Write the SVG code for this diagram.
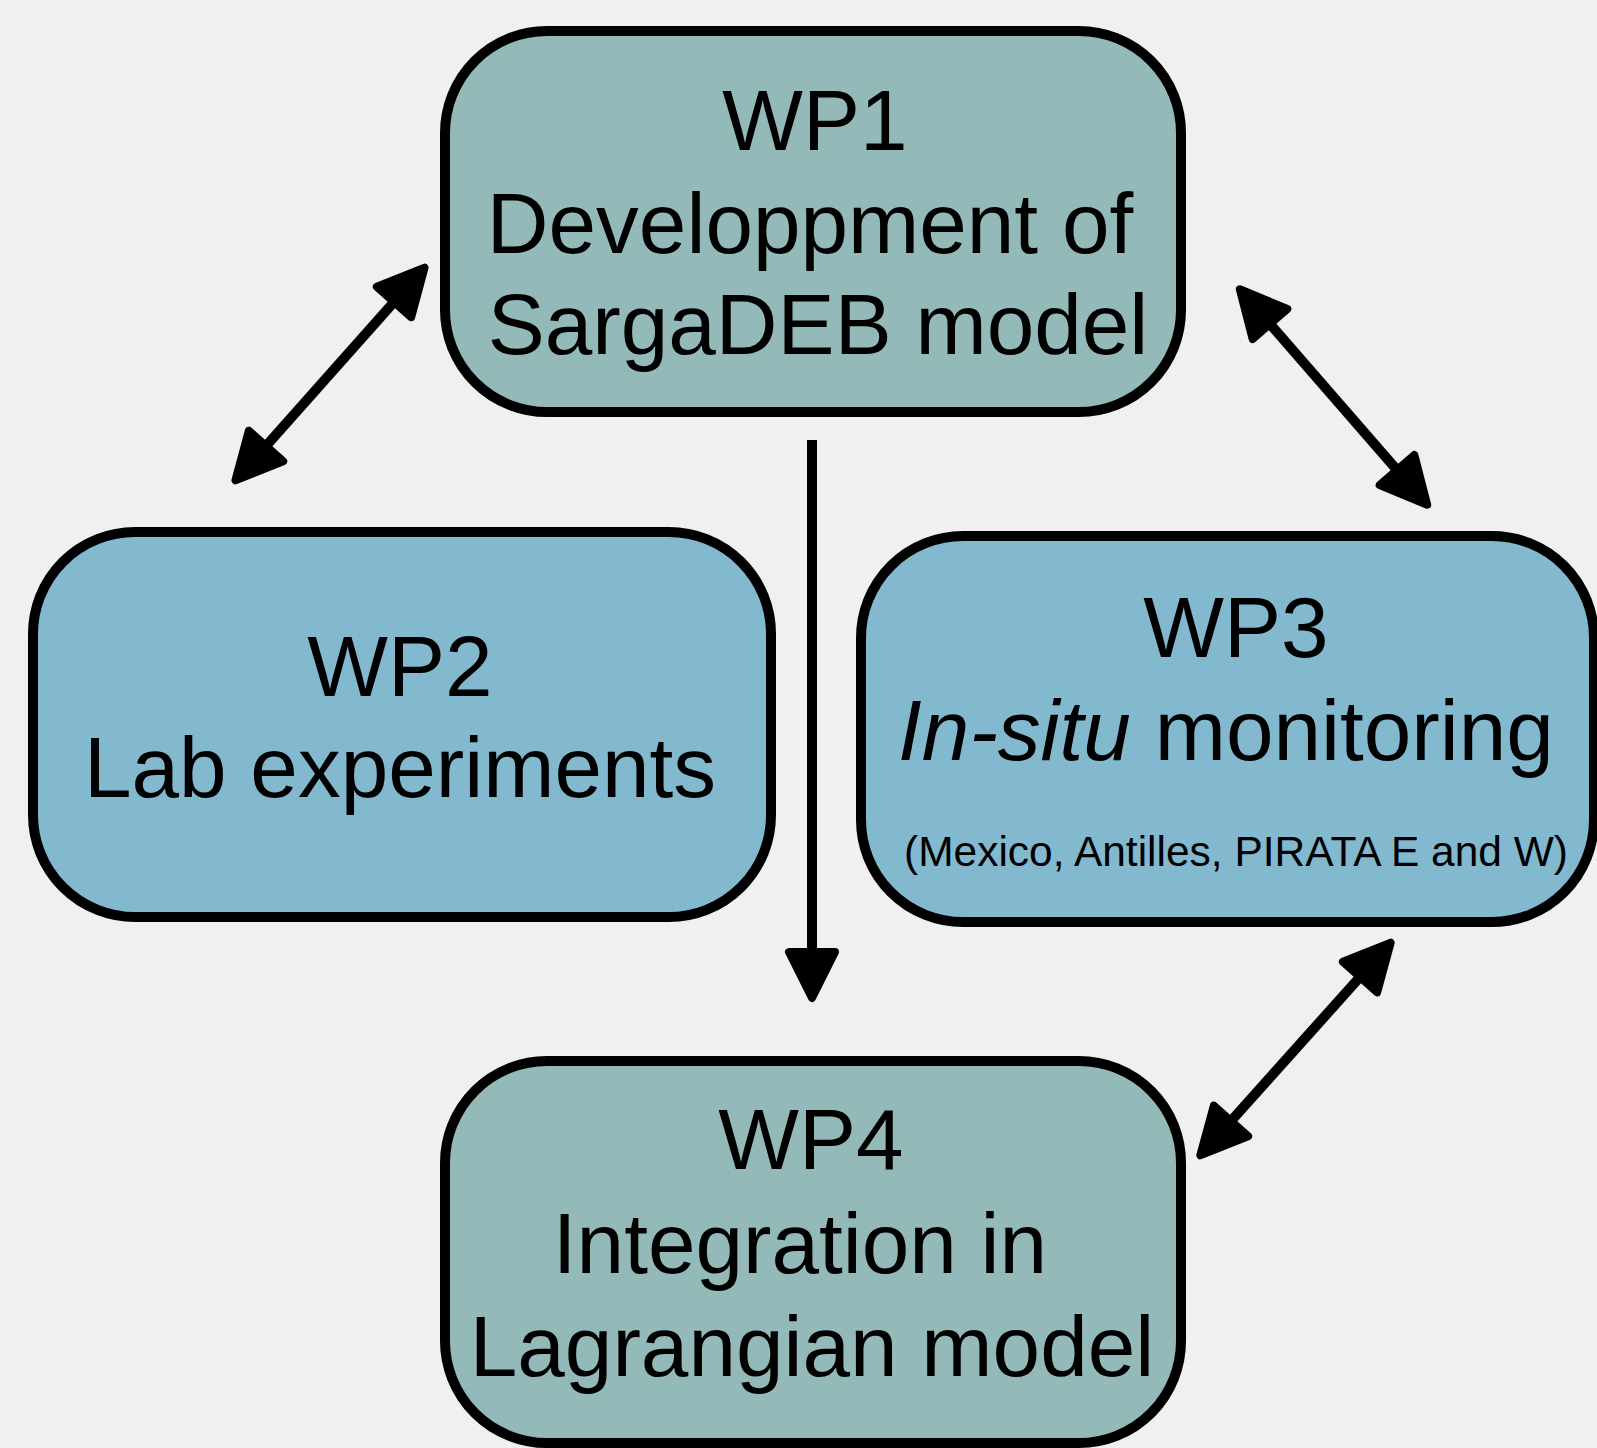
<svg xmlns="http://www.w3.org/2000/svg" width="1597" height="1448" viewBox="0 0 1597 1448">
<style>
.box{stroke:#000;stroke-width:10}
.a{fill:#93B9B9}
.b{fill:#82B9CF}
text{font-family:"Liberation Sans",Arial,sans-serif;fill:#000;text-anchor:middle}
.big{font-size:85.5px}
.small{font-size:42px}
.conn{stroke:#000;stroke-width:10;fill:none}
</style>
<defs>
<marker id="head" viewBox="0 0 56 56" markerWidth="56" markerHeight="56" markerUnits="userSpaceOnUse" refX="4" refY="27" orient="auto-start-reverse" overflow="visible">
<path d="M4 4 L50 27 L4 50 Z" fill="#000" stroke="#000" stroke-width="8" stroke-linejoin="round"/>
</marker>
</defs>
<rect width="1597" height="1448" fill="#F0F0F0"/>
<g id="wp1">
<rect class="box a" x="445" y="31" width="736" height="381" rx="102" ry="102"/>
<text class="big" x="815" y="150">WP1</text>
<text class="big" x="810" y="253">Developpment of</text>
<text class="big" x="818" y="354">SargaDEB model</text>
</g>
<g id="wp2">
<rect class="box b" x="33" y="532" width="738" height="385" rx="102" ry="102"/>
<text class="big" x="400" y="696">WP2</text>
<text class="big" x="400" y="797">Lab experiments</text>
</g>
<g id="wp3">
<rect class="box b" x="861" y="536" width="733" height="386" rx="102" ry="102"/>
<text class="big" x="1236" y="657">WP3</text>
<text class="big" x="1226" y="760"><tspan font-style="italic">In-situ</tspan> monitoring</text>
<text class="small" x="1236" y="866" textLength="664" lengthAdjust="spacingAndGlyphs">(Mexico, Antilles, PIRATA E and W)</text>
</g>
<g id="wp4">
<rect class="box a" x="445" y="1061" width="736" height="382" rx="102" ry="102"/>
<text class="big" x="811" y="1169">WP4</text>
<text class="big" x="800" y="1273">Integration in</text>
<text class="big" x="812" y="1376">Lagrangian model</text>
</g>
<g id="connectors">
<line class="conn" x1="266" y1="446" x2="394" y2="302" marker-start="url(#head)" marker-end="url(#head)"/>
<line class="conn" x1="1270" y1="324" x2="1397" y2="470" marker-start="url(#head)" marker-end="url(#head)"/>
<line class="conn" x1="812" y1="440" x2="812" y2="952" marker-end="url(#head)"/>
<line class="conn" x1="1360" y1="977" x2="1231" y2="1121" marker-start="url(#head)" marker-end="url(#head)"/>
</g>
</svg>
